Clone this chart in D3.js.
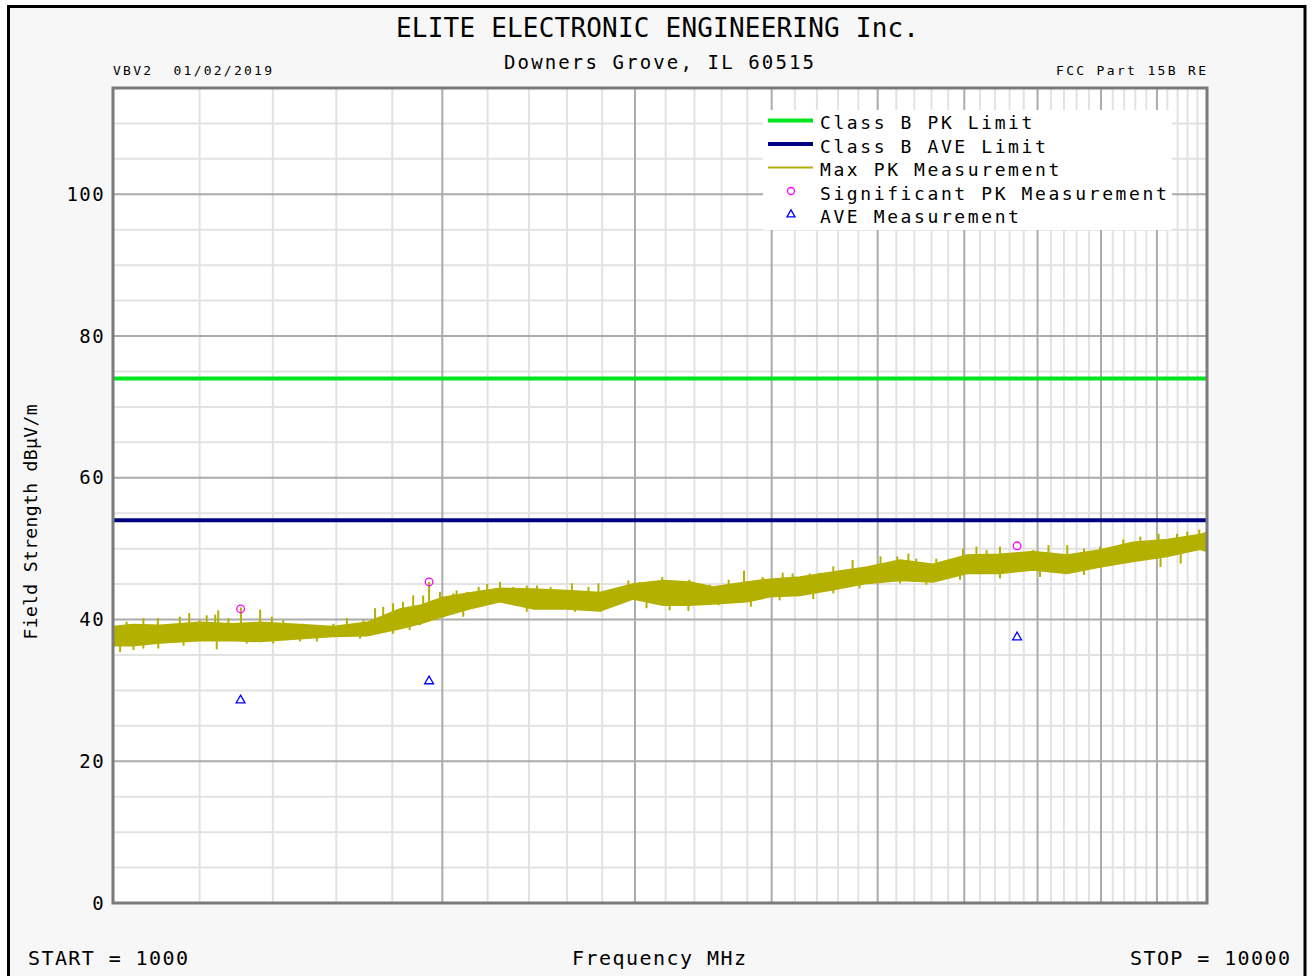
<!DOCTYPE html>
<html>
<head>
<meta charset="utf-8">
<script src="https://cdn.jsdelivr.net/npm/d3@7"></script>
<style>
  body { margin: 0; background: #fff; }
  text { font-family: "DejaVu Sans Mono", monospace; fill: #000; white-space: pre; }
</style>
</head>
<body>
<div id="chart"></div>
<script>
// ---- data ----
var yTickLabels = [0, 20, 40, 60, 80, 100];
var pkLimit = 74;
var aveLimit = 54;

// envelope of the Max PK sweep (MHz, dBuV/m)
var traceFreq = [1000, 1043, 1104, 1200, 1287, 1363, 1482, 1589, 1707, 1829, 1908, 2000, 2107, 2258, 2421, 2600, 2787, 2988,
                 3183, 3368, 3535, 3798, 3986, 4246, 4551, 4890, 5241, 5618, 6034, 6468, 6934, 7448, 7983, 8557, 9192, 9854, 10000];
var traceHigh = [39.0, 39.3, 39.2, 39.6, 39.4, 39.6, 39.3, 39.0, 39.6, 41.5, 42.0, 43.1, 43.7, 44.4, 44.3, 44.1, 43.8, 45.0,
                 45.5, 45.3, 44.6, 45.3, 45.7, 46.0, 46.7, 47.4, 48.4, 47.8, 49.1, 49.2, 49.6, 49.1, 49.8, 50.9, 51.3, 52.0, 52.3];
var traceLow  = [36.3, 36.3, 36.7, 37.0, 37.0, 36.9, 37.3, 37.6, 37.7, 38.7, 39.4, 40.4, 41.4, 42.5, 41.5, 41.5, 41.2, 42.9,
                 42.0, 42.0, 42.2, 42.5, 43.2, 43.4, 44.2, 45.1, 45.5, 45.3, 46.5, 46.5, 47.0, 46.5, 47.4, 48.2, 48.9, 49.9, 49.6];

// narrow peaks standing out of the sweep
var spikeFreq = [1029, 1066, 1099, 1151, 1174, 1200, 1218, 1240, 1248, 1275, 1309, 1363, 1397, 1431, 1493, 1590, 1636, 1694,
                 1736, 1766, 1803, 1841, 1881, 1921, 1945, 1990, 2047, 2061, 2106, 2159, 2198, 2243, 2258, 2322, 2389, 2441,
                 2512, 2627, 2720, 2778, 2878, 2958, 3030, 3177, 3254, 3364, 3513, 3654, 3774, 3925, 4094, 4180, 4334, 4425,
                 4554, 4743, 5030, 5210, 5334, 5424, 5656, 5984, 6155, 6289, 6468, 6937, 7163, 7452, 7719, 7983, 8384, 8691,
                 9032, 9389, 9593, 9839];
var spikeTop  = [39.7, 40.2, 40.2, 40.4, 40.9, 39.9, 40.6, 40.7, 41.3, 40.2, 41.7, 41.4, 40.4, 39.9, 39.4, 39.4, 40.2, 39.9,
                 41.6, 41.8, 42.3, 42.5, 43.4, 43.4, 45.3, 43.9, 43.7, 44.1, 43.9, 44.6, 45.0, 44.4, 45.3, 44.6, 44.8, 44.8,
                 44.6, 45.1, 44.6, 45.1, 44.1, 45.5, 45.3, 46.0, 45.1, 45.6, 44.9, 45.6, 46.9, 46.0, 46.6, 46.5, 46.5, 46.6,
                 47.5, 48.4, 48.9, 48.9, 49.3, 48.6, 48.6, 50.0, 50.3, 49.8, 50.3, 49.8, 50.5, 50.5, 50.0, 50.3, 51.3, 51.7,
                 52.1, 52.1, 52.4, 52.7];
var dipFreq   = [1015, 1044, 1066, 1100, 1160, 1244, 1325, 1401, 1482, 1536, 1682, 1803, 1867, 1908, 2090, 2389, 2644, 2787,
                 3074, 3227, 3357, 3577, 3829, 4068, 4366, 4554, 4813, 5241, 5539, 5946, 6468, 7037, 7719, 9068, 9461];
var dipBottom = [35.4, 35.7, 35.9, 35.9, 36.3, 35.8, 36.6, 36.6, 36.9, 36.9, 37.3, 38.0, 38.5, 39.2, 40.4, 41.1, 41.1, 41.1,
                 41.6, 41.3, 41.2, 42.0, 41.8, 42.7, 42.9, 43.7, 44.4, 45.1, 44.9, 45.6, 45.8, 46.0, 46.3, 47.4, 47.9];

// final measurements
var sigFreq = [1308, 1945, 6705];
var sigPk   = [41.5, 45.3, 50.4];
var aveMeas = [28.6, 31.3, 37.5];

var legendNames = ["Class B PK Limit", "Class B AVE Limit", "Max PK Measurement", "Significant PK Measurement", "AVE Measurement"];
var legendKinds = ["line", "line", "line", "circle", "triangle"];

// ---- layout ----
var W = 1313, H = 976;
var L = 113, R = 1207, T = 88, B = 903;
var traceColor = "#b4b000";

var svg = d3.select("#chart").append("svg").attr("width", W).attr("height", H);

svg.append("rect").attr("x", 8.5).attr("y", 6.5).attr("width", 1296.5).attr("height", H + 10)
  .attr("fill", "#f7f7f7").attr("stroke", "#000").attr("stroke-width", 3);

var x = d3.scaleLog().domain([1000, 10000]).range([L, R]);
var y = d3.scaleLinear().domain([0, 115]).range([B, T]);

svg.append("rect").attr("x", L).attr("y", T).attr("width", R - L).attr("height", B - T).attr("fill", "#fff");

// grid
var vMinor = d3.range(1200, 10000, 200).filter(function (d) { return d % 1000 !== 0; });
var vMajor = d3.range(2000, 10000, 1000);
var hMinor = d3.range(5, 115, 5).filter(function (d) { return d % 20 !== 0; });
var hMajor = yTickLabels.filter(function (d) { return d > 0; });

var grid = svg.append("g");
function vLines(vals, color) {
  grid.selectAll(null).data(vals).enter().append("line")
    .attr("x1", function (d) { return x(d); }).attr("x2", function (d) { return x(d); })
    .attr("y1", T).attr("y2", B).attr("stroke", color).attr("stroke-width", 2);
}
function hLines(vals, color) {
  grid.selectAll(null).data(vals).enter().append("line")
    .attr("y1", function (d) { return y(d); }).attr("y2", function (d) { return y(d); })
    .attr("x1", L).attr("x2", R).attr("stroke", color).attr("stroke-width", 2);
}
vLines(vMinor, "#e2e2e2");
hLines(hMinor, "#e2e2e2");
vLines(vMajor, "#ababab");
hLines(hMajor, "#ababab");

// limits
svg.append("line").attr("x1", L).attr("x2", R).attr("y1", y(pkLimit)).attr("y2", y(pkLimit))
  .attr("stroke", "#00e61e").attr("stroke-width", 4);
svg.append("line").attr("x1", L).attr("x2", R).attr("y1", y(aveLimit)).attr("y2", y(aveLimit))
  .attr("stroke", "#000080").attr("stroke-width", 4);

// Max PK sweep
var band = traceFreq.map(function (f, i) { return { f: f, hi: traceHigh[i], lo: traceLow[i] }; });
var area = d3.area()
  .x(function (d) { return x(d.f); })
  .y0(function (d) { return y(d.lo); })
  .y1(function (d) { return y(d.hi); });
svg.append("path").datum(band).attr("d", area).attr("fill", traceColor)
  .attr("stroke", traceColor).attr("stroke-width", 1.5).attr("stroke-linejoin", "round");

var lf = traceFreq.map(function (f) { return Math.log10(f); });
var mid = d3.scaleLinear().domain(lf).range(traceFreq.map(function (f, i) { return (traceHigh[i] + traceLow[i]) / 2; }));

svg.append("g").selectAll("line").data(spikeFreq).enter().append("line")
  .attr("x1", function (d) { return x(d); }).attr("x2", function (d) { return x(d); })
  .attr("y1", function (d) { return y(mid(Math.log10(d))); })
  .attr("y2", function (d, i) { return y(spikeTop[i]); })
  .attr("stroke", traceColor).attr("stroke-width", 2);
svg.append("g").selectAll("line").data(dipFreq).enter().append("line")
  .attr("x1", function (d) { return x(d); }).attr("x2", function (d) { return x(d); })
  .attr("y1", function (d) { return y(mid(Math.log10(d))); })
  .attr("y2", function (d, i) { return y(dipBottom[i]); })
  .attr("stroke", traceColor).attr("stroke-width", 2);

// measurements
svg.append("g").selectAll("circle").data(sigFreq).enter().append("circle")
  .attr("cx", function (d) { return x(d); }).attr("cy", function (d, i) { return y(sigPk[i]); })
  .attr("r", 3.8).attr("fill", "none").attr("stroke", "#ff00ff").attr("stroke-width", 1.3);
var tri = d3.symbol().type(d3.symbolTriangle).size(34);
svg.append("g").selectAll("path").data(sigFreq).enter().append("path")
  .attr("d", tri)
  .attr("transform", function (d, i) { return "translate(" + x(d) + "," + y(aveMeas[i]) + ")"; })
  .attr("fill", "none").attr("stroke", "#0000ff").attr("stroke-width", 1.3);

// plot border
svg.append("rect").attr("x", L).attr("y", T).attr("width", R - L).attr("height", B - T)
  .attr("fill", "none").attr("stroke", "#7a7a7a").attr("stroke-width", 3);

// y axis labels
var yAxis = d3.axisLeft(y).tickValues(yTickLabels).tickSize(0).tickPadding(8);
var ya = svg.append("g").attr("transform", "translate(" + L + ",0)").call(yAxis);
ya.select(".domain").remove();
ya.selectAll("text").attr("font-size", 19).attr("letter-spacing", 1.4).attr("fill", "#000")
  .attr("font-family", "DejaVu Sans Mono, monospace");

// legend
var lg = svg.append("g");
lg.append("rect").attr("x", 763).attr("y", 110).attr("width", 409).attr("height", 120).attr("fill", "#fff");
var legendColors = ["#00e61e", "#000080", traceColor, "#ff00ff", "#0000ff"];
var legendWidths = [4, 4, 2];
legendNames.forEach(function (name, i) {
  var by = 129 + i * 23.5;
  var cy = by - 8.5;
  if (legendKinds[i] === "line") {
    lg.append("line").attr("x1", 768).attr("x2", 813).attr("y1", cy).attr("y2", cy)
      .attr("stroke", legendColors[i]).attr("stroke-width", legendWidths[i]);
  } else if (legendKinds[i] === "circle") {
    lg.append("circle").attr("cx", 791).attr("cy", cy).attr("r", 3.5).attr("fill", "none")
      .attr("stroke", legendColors[i]).attr("stroke-width", 1.3);
  } else {
    lg.append("path").attr("d", d3.symbol().type(d3.symbolTriangle).size(28))
      .attr("transform", "translate(791," + cy + ")").attr("fill", "none")
      .attr("stroke", legendColors[i]).attr("stroke-width", 1.3);
  }
  lg.append("text").attr("x", 820).attr("y", by).attr("font-size", 18).attr("letter-spacing", 2.6).text(name);
});

// titles and annotations
function label(txt, xx, yy, size, anchor, width) {
  var t = svg.append("text").attr("x", xx).attr("y", yy).attr("font-size", size)
    .attr("text-anchor", anchor).text(txt);
  if (width) t.attr("textLength", width).attr("lengthAdjust", "spacing");
  return t;
}
label("ELITE ELECTRONIC ENGINEERING Inc.", 657.5, 37, 26, "middle", 523);
label("Downers Grove, IL 60515", 659, 69, 19, "middle", 310);
label("VBV2  01/02/2019", 113, 75, 13, "start", 159);
label("FCC Part 15B RE", 1206, 75, 13, "end", 150);
label("START = 1000", 28, 965, 20, "start", 160);
label("Frequency MHz", 659, 965, 20, "middle", 174);
label("STOP = 10000", 1290, 965, 20, "end", 160);

svg.append("text").attr("transform", "translate(37,522) rotate(-90)")
  .attr("text-anchor", "middle").attr("font-size", 18)
  .attr("textLength", 235).attr("lengthAdjust", "spacing")
  .text("Field Strength dB\u00B5V/m");
</script>
</body>
</html>
